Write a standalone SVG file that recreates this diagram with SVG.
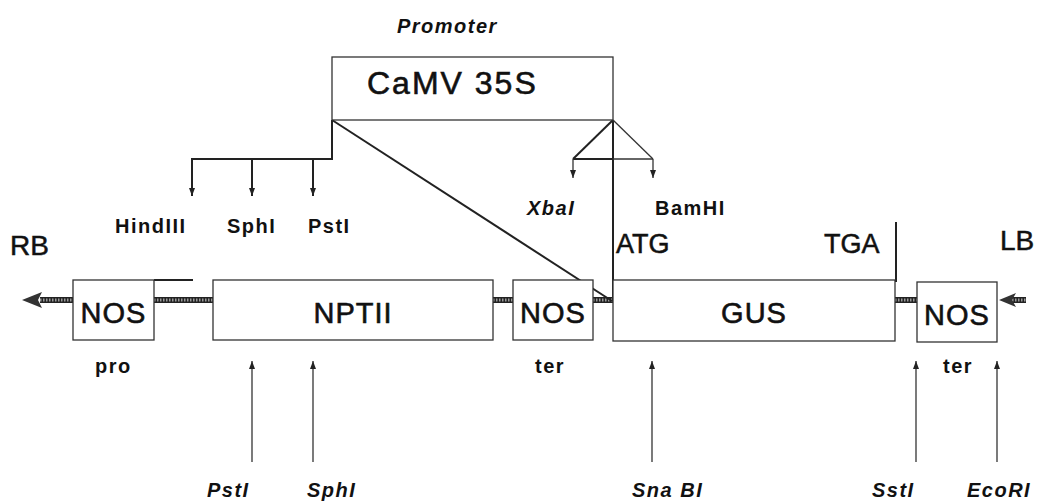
<svg xmlns="http://www.w3.org/2000/svg" width="1045" height="503" viewBox="0 0 1045 503">
<style>
text{font-family:"Liberation Sans",Arial,sans-serif;fill:#111}
.big{font-size:29px;letter-spacing:1px;stroke:#111;stroke-width:0.6}
.lab{font-size:20px;font-weight:bold;letter-spacing:1.5px}
.it{font-style:italic}
.box{fill:#fff;stroke:#333;stroke-width:1.3}
.ln{stroke:#222;stroke-width:2;fill:none}
.thin{stroke:#333;stroke-width:1.3;fill:none}
.hat{stroke:#222;stroke-width:6}
.hat2{stroke:#999;stroke-width:3;stroke-dasharray:1.5 1.5}
</style>
<defs>
<marker id="ah" viewBox="0 0 8 6" refX="8" refY="3" markerWidth="8" markerHeight="6" orient="auto" markerUnits="userSpaceOnUse">
<path d="M0,0 L8,3 L0,6 Z" fill="#222"/>
</marker>
</defs>
<rect width="1045" height="503" fill="#fff"/>

<g id="connectors">
<g id="backbone">
<line class="hat" x1="40" y1="300" x2="73" y2="300"/>
<line class="hat" x1="154" y1="300" x2="213" y2="300"/>
<line class="hat" x1="493" y1="300" x2="513" y2="300"/>
<line class="hat" x1="593" y1="300" x2="613" y2="300"/>
<line class="hat" x1="895" y1="300" x2="917" y2="300"/>
<line class="hat" x1="1012" y1="300" x2="1026" y2="300"/>
<line class="hat2" x1="40" y1="300" x2="73" y2="300"/>
<line class="hat2" x1="154" y1="300" x2="213" y2="300"/>
<line class="hat2" x1="493" y1="300" x2="513" y2="300"/>
<line class="hat2" x1="593" y1="300" x2="613" y2="300"/>
<line class="hat2" x1="895" y1="300" x2="917" y2="300"/>
<line class="hat2" x1="1012" y1="300" x2="1026" y2="300"/>
<polygon points="22,300 42,292 38,300 42,308" fill="#333"/>
<polygon points="999,300 1016,293 1012,300 1016,307" fill="#333"/>
</g>
<line class="ln" x1="154" y1="280" x2="193" y2="280"/>
<path class="ln" d="M332,120 L332,159 L192,159 L192,170"/>
<line class="ln" x1="192" y1="159" x2="192" y2="196" marker-end="url(#ah)"/>
<line class="ln" x1="252" y1="159" x2="252" y2="196" marker-end="url(#ah)"/>
<line class="ln" x1="313" y1="159" x2="313" y2="196" marker-end="url(#ah)"/>
<line class="ln" x1="332" y1="120" x2="612" y2="301" stroke-width="2.5"/>
<line class="ln" x1="613" y1="120" x2="613" y2="301" stroke-width="2.5"/>
<line class="ln" x1="613" y1="120" x2="573" y2="159"/>
<line class="thin" x1="613" y1="120" x2="653" y2="159"/>
<line class="ln" x1="573" y1="159" x2="613" y2="159"/>
<line class="thin" x1="613" y1="159" x2="653" y2="159"/>
<line class="thin" x1="573" y1="159" x2="573" y2="178" marker-end="url(#ah)"/>
<line class="thin" x1="653" y1="159" x2="653" y2="178" marker-end="url(#ah)"/>
<line class="ln" x1="896" y1="222" x2="896" y2="282"/>
<line class="thin" x1="252" y1="462" x2="252" y2="361" marker-end="url(#ah)"/>
<line class="thin" x1="313" y1="462" x2="313" y2="361" marker-end="url(#ah)"/>
<line class="thin" x1="652" y1="462" x2="652" y2="361" marker-end="url(#ah)"/>
<line class="thin" x1="916" y1="462" x2="916" y2="361" marker-end="url(#ah)"/>
<line class="thin" x1="997" y1="462" x2="997" y2="361" marker-end="url(#ah)"/>
</g>

<g id="camv">
<rect class="box" x="332" y="57" width="281" height="63"/>
<text x="367" y="94" font-size="32" letter-spacing="2" stroke="#111" stroke-width="0.6">CaMV 35S</text>
<text class="lab it" x="397" y="33" font-size="20" letter-spacing="2.5">Promoter</text>
</g>

<g id="nos-pro">
<rect class="box" x="73" y="280" width="81" height="60"/>
<text class="big" x="113.5" y="323" text-anchor="middle">NOS</text>
<text class="lab" x="95" y="373" font-size="19" letter-spacing="1">pro</text>
</g>

<g id="nptii">
<rect class="box" x="213" y="280" width="280" height="60"/>
<text class="big" x="353" y="323" text-anchor="middle" letter-spacing="2">NPTII</text>
</g>

<g id="nos-ter1">
<rect class="box" x="513" y="280" width="80" height="60"/>
<text class="big" x="553" y="323" text-anchor="middle">NOS</text>
<text class="lab" x="535" y="373" font-size="19" letter-spacing="1">ter</text>
</g>

<g id="gus">
<rect class="box" x="613" y="280" width="282" height="61"/>
<text class="big" x="754" y="323" text-anchor="middle" letter-spacing="2">GUS</text>
</g>

<g id="nos-ter2">
<rect class="box" x="917" y="282" width="80" height="60"/>
<text class="big" x="957" y="325" text-anchor="middle">NOS</text>
<text class="lab" x="943" y="373" font-size="19" letter-spacing="1">ter</text>
</g>

<g id="labels">
<text x="10" y="255" font-size="28" stroke="#111" stroke-width="0.5">RB</text>
<text x="1000" y="250" font-size="28" stroke="#111" stroke-width="0.5">LB</text>
<text x="616" y="253" font-size="27" stroke="#111" stroke-width="0.5">ATG</text>
<text x="824" y="253" font-size="27" stroke="#111" stroke-width="0.5">TGA</text>
<text class="lab" x="115" y="233">HindIII</text>
<text class="lab" x="227" y="233">SphI</text>
<text class="lab" x="308" y="233">PstI</text>
<text class="lab it" x="527" y="215">XbaI</text>
<text class="lab" x="655" y="215">BamHI</text>
<text class="lab it" x="207" y="497">PstI</text>
<text class="lab it" x="307" y="497">SphI</text>
<text class="lab it" x="632" y="497">Sna BI</text>
<text class="lab it" x="872" y="497">SstI</text>
<text class="lab it" x="967" y="497">EcoRI</text>
</g>
</svg>
